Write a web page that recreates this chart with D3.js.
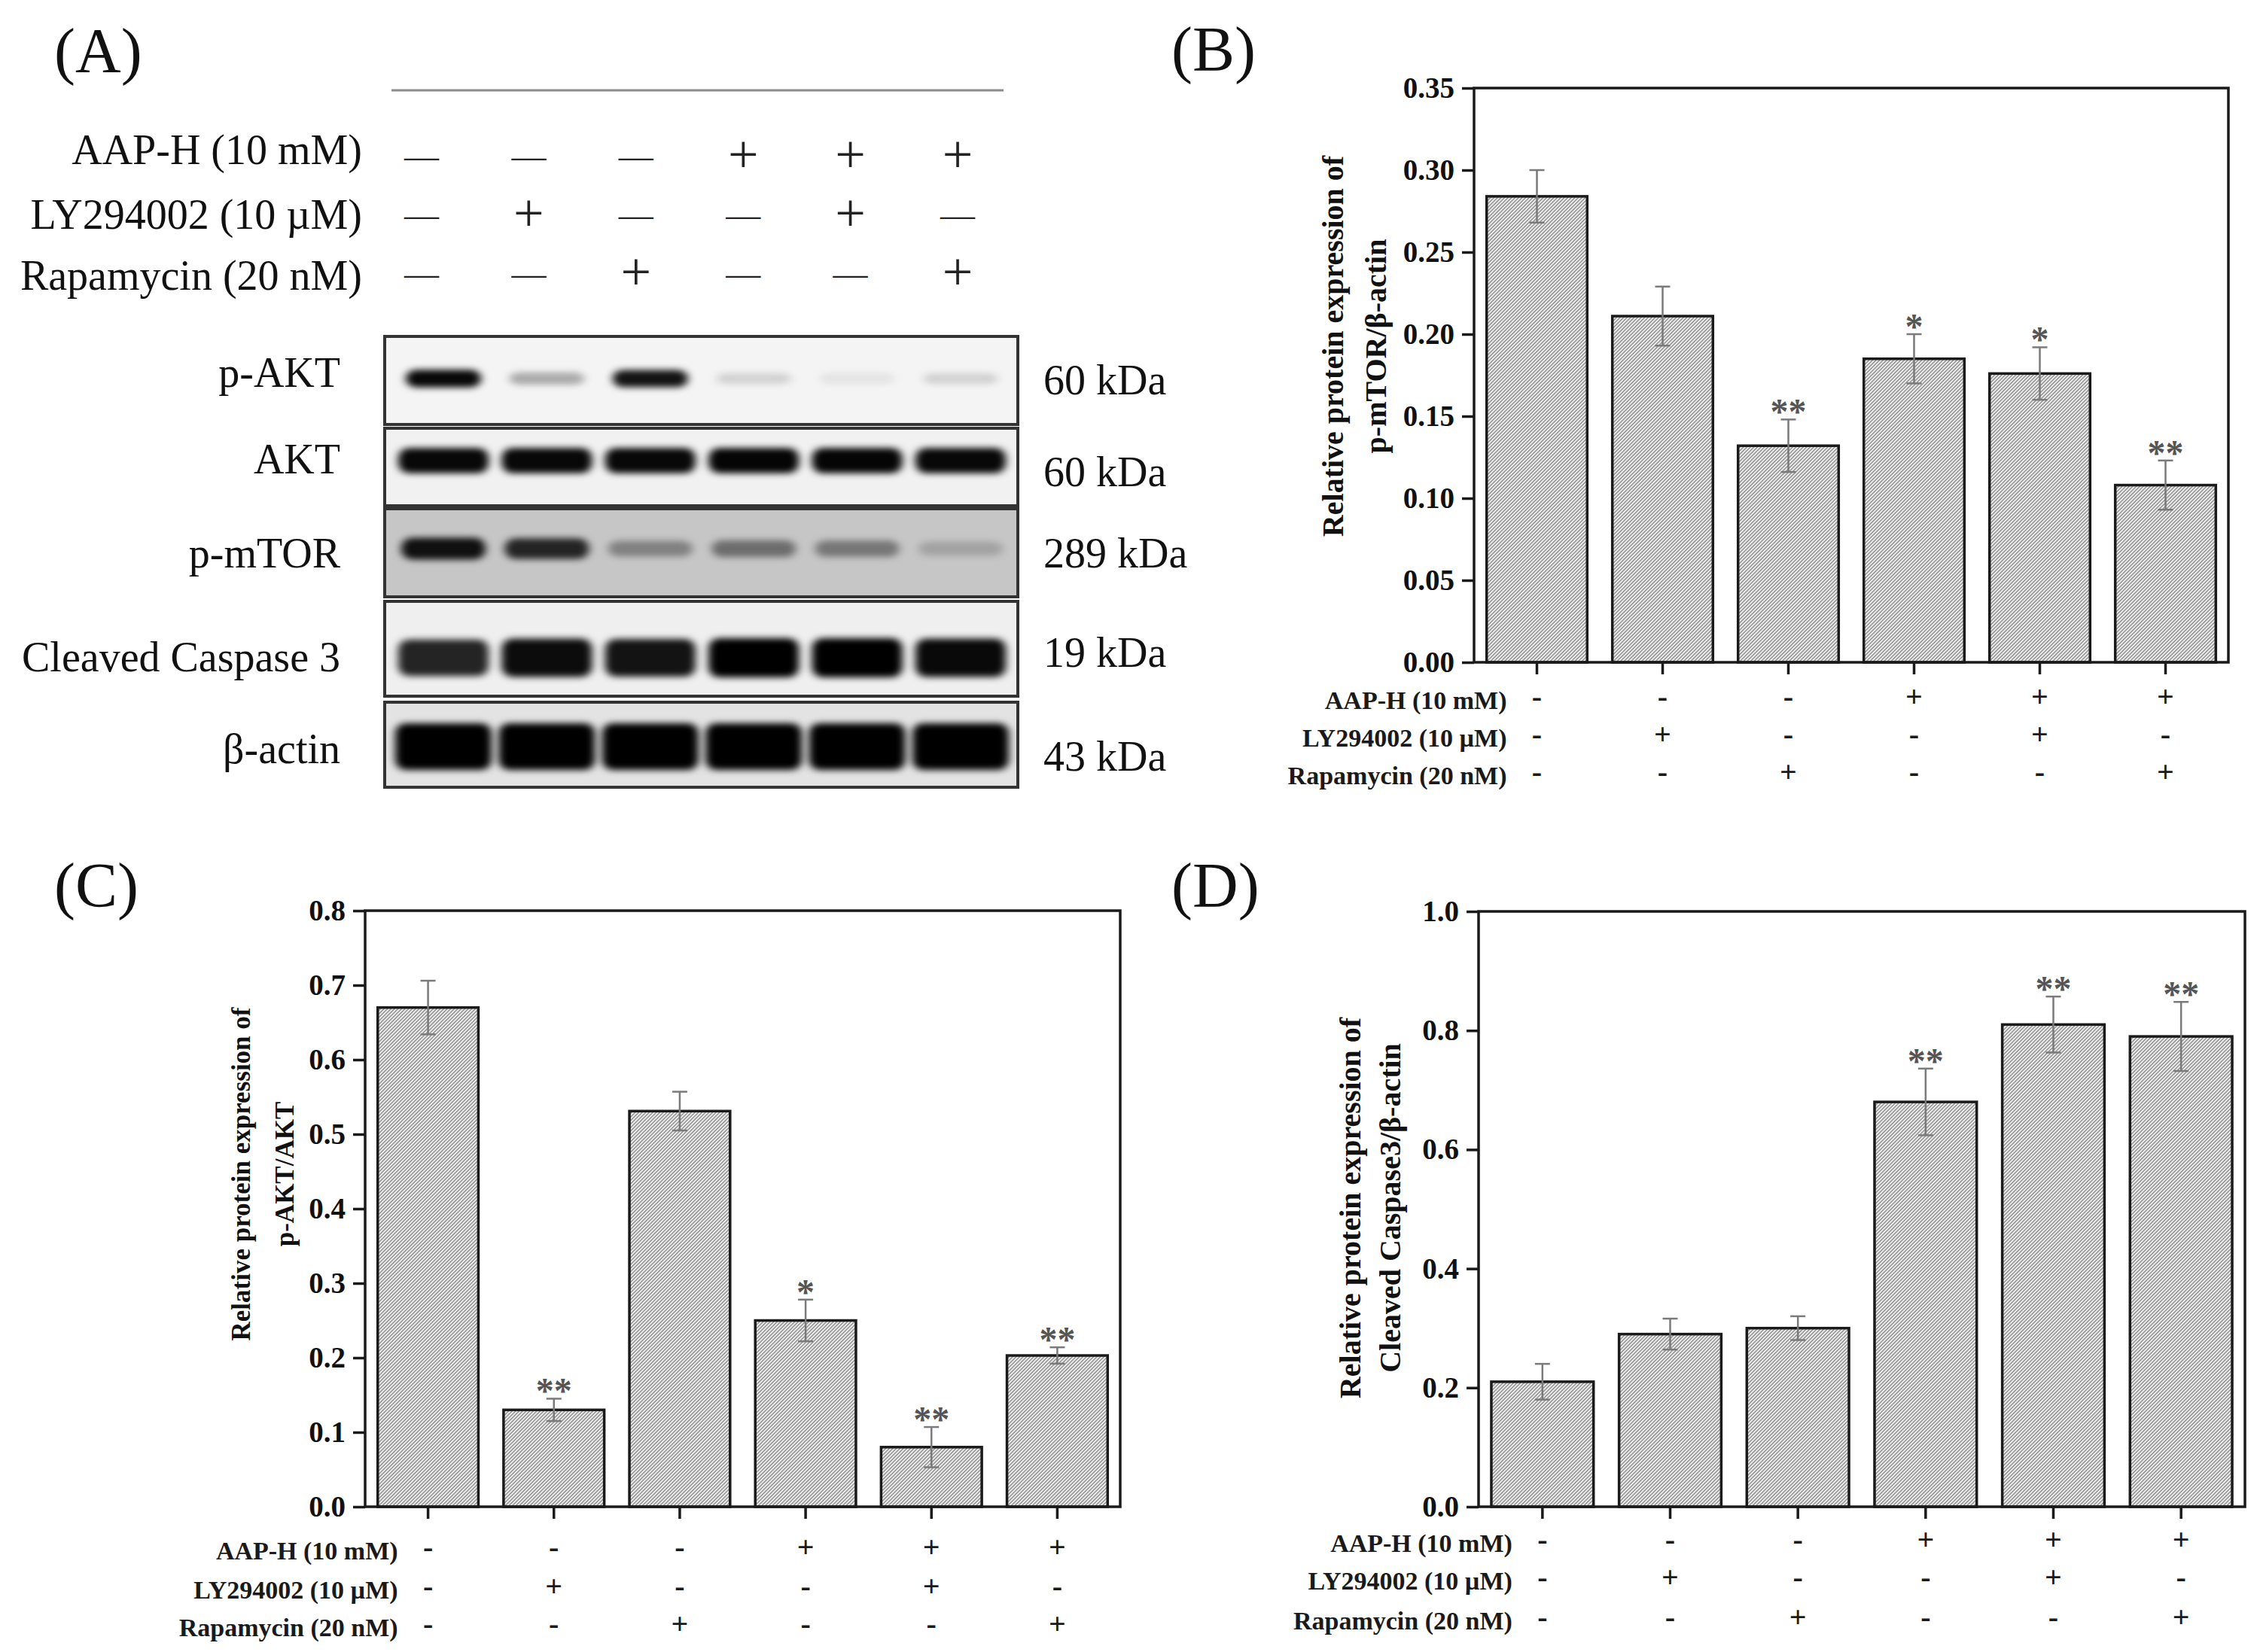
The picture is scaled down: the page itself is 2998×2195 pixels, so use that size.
<!DOCTYPE html>
<html>
<head>
<meta charset="utf-8">
<script src="https://cdn.jsdelivr.net/npm/d3@7"></script>
<style>
  body { margin: 0; background: #fff; }
  svg { display: block; }
</style>
</head>
<body>
<svg id="fig"></svg>
<script>
// ---- data ----
const lanes = ["L1", "L2", "L3", "L4", "L5", "L6"];
const treatmentLabels = ["AAP-H (10 mM)", "LY294002 (10 µM)", "Rapamycin (20 nM)"];
const aapH = ["-", "-", "-", "+", "+", "+"];
const ly294002 = ["-", "+", "-", "-", "+", "-"];
const rapamycin = ["-", "-", "+", "-", "-", "+"];

// western blot (A): band darkness per lane, 0..1
const blotProteins = ["p-AKT", "AKT", "p-mTOR", "Cleaved Caspase 3", "β-actin"];
const blotWeights = ["60 kDa", "60 kDa", "289 kDa", "19 kDa", "43 kDa"];
const pAKTBand = [0.97, 0.3, 0.92, 0.14, 0.07, 0.14];
const aktBand = [0.97, 0.97, 0.97, 0.98, 0.98, 0.97];
const pmTORBand = [0.92, 0.82, 0.35, 0.45, 0.4, 0.18];
const casp3Band = [0.85, 0.95, 0.92, 1, 1, 0.96];
const actinBand = [1, 1, 1, 1, 1, 1];

// (B) p-mTOR/β-actin
const mtorMean = [0.284, 0.211, 0.132, 0.185, 0.176, 0.108];
const mtorErr = [0.016, 0.018, 0.016, 0.015, 0.016, 0.015];
const mtorSig = ["", "", "**", "*", "*", "**"];
const mtorTicks = [0, 0.05, 0.10, 0.15, 0.20, 0.25, 0.30, 0.35];

// (C) p-AKT/AKT
const paktMean = [0.670, 0.130, 0.531, 0.250, 0.080, 0.203];
const paktErr = [0.036, 0.015, 0.026, 0.028, 0.027, 0.011];
const paktSig = ["", "**", "", "*", "**", "**"];
const paktTicks = [0, 0.1, 0.2, 0.3, 0.4, 0.5, 0.6, 0.7, 0.8];

// (D) Cleaved Caspase3/β-actin
const casp3Mean = [0.21, 0.29, 0.30, 0.68, 0.81, 0.79];
const casp3Err = [0.030, 0.026, 0.020, 0.056, 0.047, 0.058];
const casp3Sig = ["", "", "", "**", "**", "**"];
const casp3Ticks = [0, 0.2, 0.4, 0.6, 0.8, 1.0];

// ---- drawing ----
const W = 2998, H = 2195;
const serif = "'Liberation Serif', 'Times New Roman', serif";
const ink = "#1a1a1a";

const svg = d3.select("#fig").attr("width", W).attr("height", H)
  .attr("font-family", serif);
svg.append("rect").attr("width", W).attr("height", H).attr("fill", "#fff");

const defs = svg.append("defs");
// diagonal hatch for the bars
const hatch = defs.append("pattern").attr("id", "hatch")
  .attr("patternUnits", "userSpaceOnUse")
  .attr("width", 3.3).attr("height", 3.3)
  .attr("patternTransform", "rotate(45)");
hatch.append("rect").attr("width", 3.3).attr("height", 3.3).attr("fill", "#f0f0f0");
hatch.append("line").attr("x1", 1.65).attr("x2", 1.65).attr("y1", 0).attr("y2", 3.3)
  .attr("stroke", "#787878").attr("stroke-width", 1.2);

// blur for blot bands
defs.append("filter").attr("id", "bandBlur")
  .attr("x", "-50%").attr("y", "-150%").attr("width", "200%").attr("height", "400%")
  .append("feGaussianBlur").attr("stdDeviation", "6 4.5");

const treatRows = [aapH, ly294002, rapamycin];
const signGlyph = s => s === "+" ? "+" : "—";

// panel letters
const letters = [["(A)", 72, 96], ["(B)", 1556, 94], ["(C)", 72, 1205], ["(D)", 1556, 1205]];
svg.selectAll("text.letter").data(letters).join("text")
  .attr("class", "letter")
  .attr("x", d => d[1]).attr("y", d => d[2])
  .attr("font-size", 84).attr("fill", "#111")
  .text(d => d[0]);

// ===== (A) western blot =====
const gA = svg.append("g");
gA.append("line").attr("x1", 520).attr("x2", 1333).attr("y1", 120).attr("y2", 120)
  .attr("stroke", "#8c8c8c").attr("stroke-width", 3);

const signPos = d3.scalePoint().domain(lanes).range([560, 1272]);
const treatY = [212, 290, 368];
const treatBase = [218, 304, 385];

gA.selectAll("text.tlab").data(treatmentLabels).join("text")
  .attr("class", "tlab")
  .attr("x", 481).attr("y", (d, i) => treatBase[i])
  .attr("text-anchor", "end").attr("font-size", 56).attr("fill", "#111")
  .text(d => d);

treatRows.forEach((row, r) => {
  gA.selectAll(null).data(row).join("text")
    .attr("x", (d, i) => signPos(lanes[i]))
    .attr("y", treatY[r])
    .attr("text-anchor", "middle")
    .attr("dominant-baseline", "middle")
    .attr("font-size", d => d === "+" ? 72 : 46)
    .attr("fill", "#222")
    .text(d => signGlyph(d));
});

const lanePos = d3.scalePoint().domain(lanes).range([589, 1276]);
const blotBands = [pAKTBand, aktBand, pmTORBand, casp3Band, actinBand];
const blotLayout = [
  { y0: 447, y1: 564, bandY: 503, bandH: 24, bandW: 100, bg: "#f4f4f4", labelY: 514, kdaY: 524 },
  { y0: 569, y1: 672, bandY: 612, bandH: 34, bandW: 120, bg: "#f1f1f1", labelY: 629, kdaY: 646 },
  { y0: 676, y1: 793, bandY: 729, bandH: 30, bandW: 112, bg: "#c6c6c6", labelY: 754, kdaY: 754 },
  { y0: 799, y1: 925, bandY: 874, bandH: 52, bandW: 120, bg: "#efefef", labelY: 892, kdaY: 886 },
  { y0: 933, y1: 1046, bandY: 992, bandH: 62, bandW: 128, bg: "#e3e3e3", labelY: 1014, kdaY: 1024 }
];
const boxX0 = 511, boxX1 = 1352;

blotLayout.forEach((L, k) => {
  const clipId = "clip" + k;
  defs.append("clipPath").attr("id", clipId)
    .append("rect").attr("x", boxX0).attr("y", L.y0)
    .attr("width", boxX1 - boxX0).attr("height", L.y1 - L.y0);

  gA.append("rect").attr("x", boxX0).attr("y", L.y0)
    .attr("width", boxX1 - boxX0).attr("height", L.y1 - L.y0)
    .attr("fill", L.bg);

  gA.append("g").attr("clip-path", `url(#${clipId})`)
    .selectAll("rect").data(blotBands[k]).join("rect")
    .attr("x", (d, i) => lanePos(lanes[i]) - L.bandW / 2)
    .attr("width", L.bandW)
    .attr("y", d => L.bandY - L.bandH * (0.55 + 0.45 * d) / 2)
    .attr("height", d => L.bandH * (0.55 + 0.45 * d))
    .attr("rx", 14)
    .attr("fill", "#050505")
    .attr("fill-opacity", d => d)
    .attr("filter", "url(#bandBlur)");

  gA.append("rect").attr("x", boxX0).attr("y", L.y0)
    .attr("width", boxX1 - boxX0).attr("height", L.y1 - L.y0)
    .attr("fill", "none").attr("stroke", "#333").attr("stroke-width", 4);

  gA.append("text").attr("x", 452).attr("y", L.labelY)
    .attr("text-anchor", "end").attr("font-size", 56).attr("fill", "#111")
    .text(blotProteins[k]);
  gA.append("text").attr("x", 1386).attr("y", L.kdaY)
    .attr("font-size", 56).attr("fill", "#111")
    .text(blotWeights[k]);
});

// ===== bar panels (B, C, D) =====
function barPanel(p) {
  const g = svg.append("g");
  const x = d3.scaleBand().domain(lanes).range([p.left, p.right])
    .paddingInner(0.2).paddingOuter(0.1);
  const y = d3.scaleLinear().domain([0, p.max]).range([p.bottom, p.top]);
  const cx = i => x(lanes[i]) + x.bandwidth() / 2;

  g.selectAll("rect.bar").data(p.mean).join("rect")
    .attr("class", "bar")
    .attr("x", (d, i) => x(lanes[i]))
    .attr("y", d => y(d))
    .attr("width", x.bandwidth())
    .attr("height", d => y(0) - y(d))
    .attr("fill", "url(#hatch)")
    .attr("stroke", ink).attr("stroke-width", 3.5);

  // error bars
  const eb = g.selectAll("g.err").data(p.mean).join("g").attr("class", "err")
    .attr("stroke", "#7a7a7a").attr("stroke-width", 2.5);
  eb.append("line")
    .attr("x1", (d, i) => cx(i)).attr("x2", (d, i) => cx(i))
    .attr("y1", (d, i) => y(d - p.err[i])).attr("y2", (d, i) => y(d + p.err[i]));
  eb.append("line")
    .attr("x1", (d, i) => cx(i) - 10).attr("x2", (d, i) => cx(i) + 10)
    .attr("y1", (d, i) => y(d + p.err[i])).attr("y2", (d, i) => y(d + p.err[i]));
  eb.append("line")
    .attr("x1", (d, i) => cx(i) - 10).attr("x2", (d, i) => cx(i) + 10)
    .attr("y1", (d, i) => y(d - p.err[i])).attr("y2", (d, i) => y(d - p.err[i]));

  // significance stars
  g.selectAll("text.sig").data(p.sig).join("text")
    .attr("class", "sig")
    .attr("x", (d, i) => cx(i))
    .attr("y", (d, i) => y(p.mean[i] + p.err[i]) + 6)
    .attr("text-anchor", "middle")
    .attr("font-size", 48).attr("font-weight", "bold").attr("fill", "#555")
    .text(d => d);

  // frame
  g.append("rect").attr("x", p.left).attr("y", p.top)
    .attr("width", p.right - p.left).attr("height", p.bottom - p.top)
    .attr("fill", "none").attr("stroke", ink).attr("stroke-width", 3.5);

  // y axis
  const ya = g.append("g").attr("transform", `translate(${p.left},0)`)
    .call(d3.axisLeft(y).tickValues(p.ticks).tickSize(16).tickPadding(10)
      .tickFormat(d3.format(p.fmt)));
  ya.attr("font-family", serif);
  ya.select(".domain").remove();
  ya.selectAll(".tick line").attr("stroke", ink).attr("stroke-width", 3.5);
  ya.selectAll(".tick text").attr("font-size", 39).attr("font-weight", "bold").attr("fill", "#111");

  // x axis ticks only
  const xa = g.append("g").attr("transform", `translate(0,${p.bottom})`)
    .call(d3.axisBottom(x).tickSize(16).tickFormat(""));
  xa.select(".domain").remove();
  xa.selectAll(".tick line").attr("stroke", ink).attr("stroke-width", 3.5);

  // treatment table under the axis
  g.selectAll("text.rowlab").data(treatmentLabels).join("text")
    .attr("class", "rowlab")
    .attr("x", cx(0) - 40)
    .attr("y", (d, r) => p.bottom + p.rows[r])
    .attr("text-anchor", "end").attr("dominant-baseline", "central")
    .attr("font-size", 34).attr("font-weight", "bold").attr("fill", "#1a1a1a")
    .text(d => d);
  treatRows.forEach((row, r) => {
    g.selectAll(null).data(row).join("text")
      .attr("x", (d, i) => cx(i))
      .attr("y", p.bottom + p.rows[r])
      .attr("text-anchor", "middle").attr("dominant-baseline", "middle")
      .attr("font-size", 40).attr("font-weight", "bold").attr("fill", "#1a1a1a")
      .text(d => d);
  });

  // y title (two lines)
  p.title.forEach((t, k) => {
    g.append("text")
      .attr("transform", `translate(${p.titleX[k]},${p.titleY}) rotate(-90)`)
      .attr("text-anchor", "middle")
      .attr("font-size", p.titleSize).attr("font-weight", "bold").attr("fill", "#111")
      .text(t);
  });
}

barPanel({
  left: 1958, right: 2960, top: 117, bottom: 880, max: 0.35,
  mean: mtorMean, err: mtorErr, sig: mtorSig, ticks: mtorTicks, fmt: ".2f",
  rows: [50, 100, 150],
  title: ["Relative protein expression of", "p-mTOR/β-actin"],
  titleX: [1784, 1841], titleY: 460, titleSize: 40
});

barPanel({
  left: 485, right: 1488, top: 1210, bottom: 2002, max: 0.8,
  mean: paktMean, err: paktErr, sig: paktSig, ticks: paktTicks, fmt: ".1f",
  rows: [58, 110, 160],
  title: ["Relative protein expression of", "p-AKT/AKT"],
  titleX: [332, 390], titleY: 1560, titleSize: 35
});

barPanel({
  left: 1964, right: 2982, top: 1211, bottom: 2002, max: 1.0,
  mean: casp3Mean, err: casp3Err, sig: casp3Sig, ticks: casp3Ticks, fmt: ".1f",
  rows: [48, 98, 151],
  title: ["Relative protein expression of", "Cleaved Caspase3/β-actin"],
  titleX: [1807, 1860], titleY: 1605, titleSize: 40
});
</script>
</body>
</html>
